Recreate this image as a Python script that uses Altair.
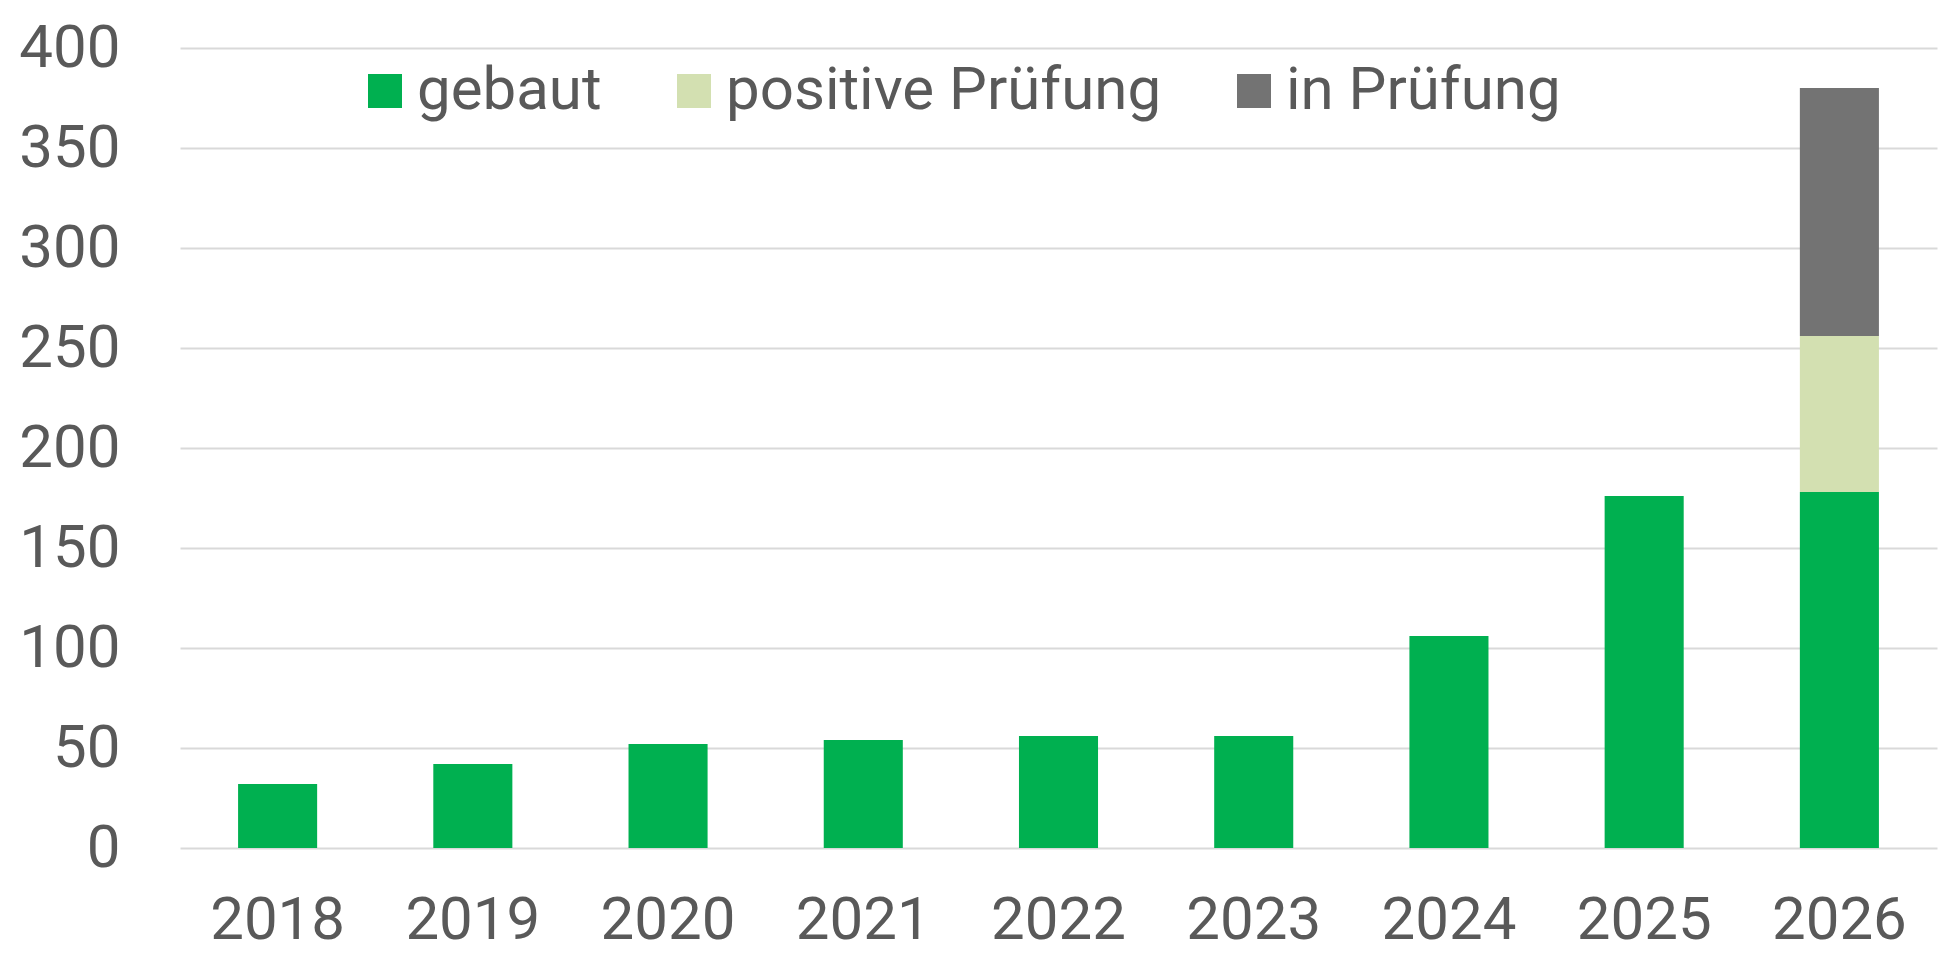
import altair as alt
import pandas as pd

years = ["2018", "2019", "2020", "2021", "2022", "2023", "2024", "2025", "2026"]
gebaut = [32, 42, 52, 54, 56, 56, 106, 176, 178]
positive_pruefung = [0, 0, 0, 0, 0, 0, 0, 0, 78]
in_pruefung = [0, 0, 0, 0, 0, 0, 0, 0, 124]
series = ["gebaut", "positive Prüfung", "in Prüfung"]
colors = ["#00B050", "#D3E0B1", "#737373"]
y_ticks = [0, 50, 100, 150, 200, 250, 300, 350, 400]

rows = []
for i, yr in enumerate(years):
    for k, (name, vals) in enumerate(zip(series, [gebaut, positive_pruefung, in_pruefung])):
        rows.append({"Jahr": yr, "Status": name, "Wert": vals[i], "ord": k})
df = pd.DataFrame(rows)
df = df[df["Wert"] > 0]

FONT = "Roboto"
TXT = "#595959"

chart = (
    alt.Chart(df)
    .mark_bar()
    .encode(
        x=alt.X(
            "Jahr:N",
            sort=years,
            scale=alt.Scale(paddingInner=0.595, paddingOuter=0.2975),
            axis=alt.Axis(
                title=None,
                labelAngle=0,
                domain=False,
                ticks=False,
                labelFontSize=60,
                labelFont=FONT,
                labelColor=TXT,
                labelBaseline="alphabetic",
                labelPadding=90,
            ),
        ),
        y=alt.Y(
            "Wert:Q",
            stack="zero",
            scale=alt.Scale(domain=[0, 400], nice=False),
            axis=alt.Axis(
                title=None,
                values=y_ticks,
                grid=True,
                gridColor="#D9D9D9",
                gridWidth=2,
                domain=False,
                ticks=False,
                labelFontSize=60,
                labelFont=FONT,
                labelColor=TXT,
                labelPadding=60,
            ),
        ),
        color=alt.Color(
            "Status:N",
            sort=series,
            scale=alt.Scale(domain=series, range=colors),
            legend=alt.Legend(
                title=None,
                orient="none",
                legendX=175,
                legendY=13,
                direction="horizontal",
                symbolType="square",
                symbolSize=1156,
                symbolStrokeWidth=0,
                labelFontSize=60,
                labelFont=FONT,
                labelColor=TXT,
                labelOffset=2,
                columnPadding=62,
                padding=0,
                labelLimit=0,
            ),
        ),
        order=alt.Order("ord:Q", sort="ascending"),
    )
    .properties(
        width=1757,
        height=800,
        autosize=alt.AutoSizeParams(type="none"),
        padding={"left": 172, "top": 40, "right": 4, "bottom": 104},
    )
    .configure_view(stroke=None)
)

chart.save("out.html", embed_options={"renderer": "svg", "actions": False})
